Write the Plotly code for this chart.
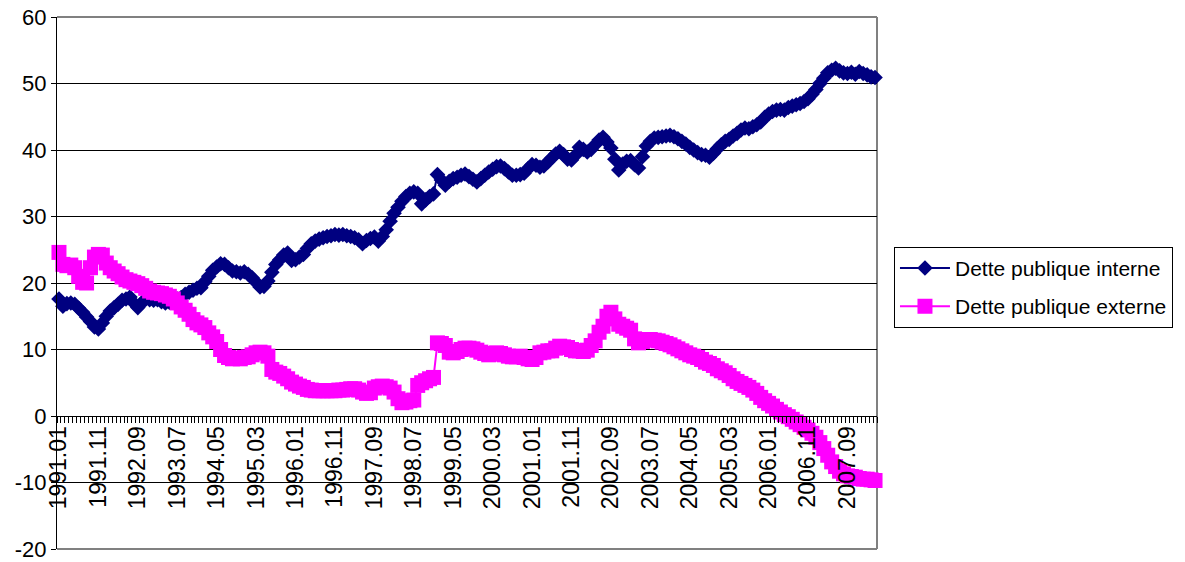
import plotly.graph_objects as go

# Monthly observations, January 1991 to April 2008
months = []
for year in range(1991, 2009):
    for m in range(1, 13):
        months.append(f"{year}.{m:02d}")
months = months[:208]

dette_interne = [
    # 1991
    17.6, 16.5, 16.9, 17.0, 16.8, 16.2, 15.6, 14.9, 14.2, 13.4, 13.1, 14.0,
    # 1992
    15.0, 15.8, 16.3, 16.8, 17.4, 17.6, 17.9, 17.0, 16.3, 17.0, 17.6, 17.5,
    # 1993
    17.4, 17.5, 17.2, 17.0, 17.1, 17.3, 17.6, 17.8, 18.3, 18.6, 18.9, 19.2,
    # 1994
    19.3, 20.2, 21.0, 21.9, 22.4, 22.9, 22.8, 22.3, 21.8, 21.7, 21.5, 21.7,
    # 1995
    21.3, 20.8, 20.1, 19.4, 19.5, 20.3, 21.6, 22.8, 23.5, 24.2, 24.5, 23.4,
    # 1996
    23.5, 23.9, 24.3, 25.2, 25.9, 26.3, 26.6, 26.8, 27.0, 27.1, 27.3, 27.2,
    # 1997
    27.3, 27.1, 27.0, 26.8, 26.5, 25.9, 26.4, 26.7, 26.9, 26.3, 27.0, 28.0,
    # 1998
    29.3, 30.5, 31.4, 32.3, 33.0, 33.5, 33.7, 33.5, 31.9, 32.5, 33.0, 33.4,
    # 1999
    36.3, 35.5, 34.7, 35.3, 35.7, 35.9, 36.2, 36.4, 36.0, 35.6, 35.2, 35.7,
    # 2000
    36.2, 36.7, 37.1, 37.5, 37.6, 37.2, 36.7, 36.2, 36.2, 36.3, 36.5, 37.2,
    # 2001
    37.8, 37.7, 37.4, 37.6, 38.2, 38.8, 39.4, 39.8, 39.3, 38.6, 38.5, 39.2,
    # 2002
    40.4, 40.1, 39.7, 40.1, 40.8, 41.5, 41.9, 41.2, 40.3, 38.6, 37.0, 37.9,
    # 2003
    38.3, 38.4, 37.8, 37.3, 39.0, 40.6, 41.3, 41.8, 41.9, 42.0, 42.1, 42.2,
    # 2004
    42.0, 41.7, 41.3, 40.9, 40.4, 40.0, 39.6, 39.3, 39.2, 38.9, 39.5, 40.2,
    # 2005
    40.8, 41.3, 41.6, 42.1, 42.5, 43.0, 43.3, 43.2, 43.5, 43.8, 44.2, 44.9,
    # 2006
    45.4, 45.8, 46.0, 46.1, 46.0, 46.4, 46.6, 46.8, 47.0, 47.3, 47.7, 48.4,
    # 2007
    49.1, 50.0, 50.8, 51.6, 52.0, 52.3, 51.9, 51.6, 51.5, 51.7, 51.4, 51.8,
    # 2008
    51.5, 51.3, 51.0, 50.9,
]

dette_externe = [
    # 1991
    24.6, 22.8, 22.6, 22.7, 22.3, 21.0, 20.1, 20.0, 22.3, 23.9, 24.3, 24.2,
    # 1992
    23.0, 22.3, 21.8, 21.4, 20.9, 20.5, 20.3, 20.1, 19.9, 19.6, 19.2, 18.8,
    # 1993
    18.6, 18.5, 18.4, 18.2, 18.0, 17.6, 17.0, 16.4, 15.9, 15.3, 14.5, 14.0,
    # 1994
    13.7, 13.3, 12.5, 11.9, 11.2, 10.0, 9.1, 8.8, 8.6, 8.7, 8.6, 8.8,
    # 1995
    8.9, 9.2, 9.5, 9.6, 9.5, 9.0, 7.0, 6.6, 6.4, 6.0, 5.6, 5.1,
    # 1996
    4.8, 4.5, 4.3, 4.0, 3.9, 3.8, 3.8, 3.8, 3.8, 3.8, 3.8, 3.9,
    # 1997
    3.9, 4.0, 4.1, 4.1, 3.9, 3.6, 3.4, 3.5, 4.2, 4.4, 4.5, 4.4,
    # 1998
    4.2, 3.6, 2.6, 2.0, 2.1, 2.3, 2.4, 4.6, 5.0, 5.3, 5.6, 5.8,
    # 1999
    11.0, 10.9, 10.6, 9.6, 9.5, 9.7, 10.0, 10.2, 10.2, 10.1, 9.9, 9.6,
    # 2000
    9.4, 9.2, 9.3, 9.5, 9.4, 9.2, 9.0, 8.9, 8.9, 9.0, 8.8, 8.6,
    # 2001
    8.5, 8.8, 9.5, 9.6, 9.8, 9.8, 10.2, 10.5, 10.4, 10.3, 10.0, 9.8,
    # 2002
    9.8, 9.7, 9.9, 10.6, 11.3, 12.6, 13.5, 15.0, 15.6, 14.6, 13.8, 13.5,
    # 2003
    13.2, 12.9, 11.6, 11.0, 11.2, 11.5, 11.5, 11.4, 11.3, 11.1, 10.9, 10.7,
    # 2004
    10.4, 10.1, 9.8, 9.5, 9.2, 9.0, 8.8, 8.5, 8.1, 7.9, 7.6, 7.1,
    # 2005
    6.8, 6.5, 6.1, 5.6, 5.2, 4.9, 4.6, 4.3, 3.9, 3.4, 2.8, 2.3,
    # 2006
    1.9, 1.5, 1.0, 0.6, 0.2, -0.1, -0.5, -0.9, -1.3, -1.7, -2.1, -2.6,
    # 2007
    -3.2, -4.0, -4.9, -5.9, -6.9, -7.6, -8.3, -8.7, -9.0, -9.1, -9.2, -9.4,
    # 2008
    -9.5, -9.5, -9.6, -9.7,
]

y_ticks = [-20, -10, 0, 10, 20, 30, 40, 50, 60]
y_labels = [str(v) for v in y_ticks]

idx = list(range(len(months)))
label_idx = idx[::10]
label_txt = [months[i] for i in label_idx]

FONT = "Liberation Sans, Arial, sans-serif"

fig = go.Figure()
fig.add_trace(go.Scatter(
    x=idx, y=dette_interne, name="Dette publique interne",
    legendgroup="interne",
    mode="lines+markers",
    line=dict(color="#000080", width=2),
    marker=dict(symbol="diamond", size=12, color="#000080"),
    cliponaxis=False,
))
fig.add_trace(go.Scatter(
    x=idx, y=dette_externe, name="Dette publique externe",
    legendgroup="externe",
    mode="lines+markers",
    line=dict(color="#FF00FF", width=2),
    marker=dict(symbol="square", size=15, color="#FF00FF"),
    cliponaxis=False,
))

# gray plot-area frame on top, right and bottom
frame = dict(type="line", xref="paper", yref="paper", layer="between",
             line=dict(color="#808080", width=2))
fig.add_shape(x0=0, x1=1, y0=1, y1=1, **frame)
fig.add_shape(x0=1, x1=1, y0=0, y1=1, **frame)
fig.add_shape(x0=0, x1=1, y0=0, y1=0, **frame)

fig.update_layout(
    width=1185, height=562,
    margin=dict(l=57, r=308, t=17, b=13, autoexpand=False),
    paper_bgcolor="white", plot_bgcolor="white",
    font=dict(family=FONT, size=21, color="black"),
    showlegend=True,
    legend=dict(
        x=1.0207, y=0.568, xanchor="left", yanchor="top",
        bordercolor="black", borderwidth=1,
        font=dict(family=FONT, size=21, color="black"),
        itemwidth=50, tracegroupgap=8,
    ),
    xaxis=dict(
        range=[-0.5, len(months) - 0.5],
        anchor="free", position=0.25,
        tickmode="array", tickvals=label_idx, ticktext=label_txt,
        tickangle=-90, ticks="",
        tickfont=dict(family=FONT, size=23, color="black"),
        showline=True, linecolor="black", linewidth=1,
        showgrid=False, zeroline=False,
        minor=dict(tick0=0.5, dtick=1, ticks="outside", ticklen=6,
                   tickcolor="black", tickwidth=1, showgrid=False),
    ),
    yaxis=dict(
        range=[-20, 60], tickmode="array", tickvals=y_ticks, ticktext=y_labels,
        ticks="outside", ticklen=5, tickcolor="black",
        showline=True, linecolor="black", linewidth=1,
        showgrid=True, gridcolor="#000000", gridwidth=1,
        zeroline=False, ticklabeloverflow="allow",
        tickfont=dict(family=FONT, size=22, color="black"),
    ),
)

fig.write_html("out.html")
